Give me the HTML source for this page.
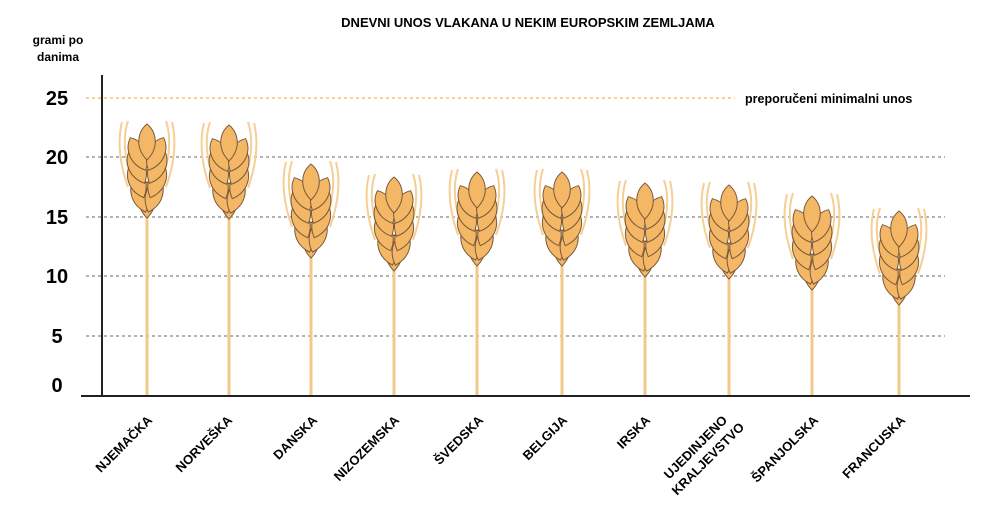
<!DOCTYPE html>
<html><head><meta charset="utf-8"><style>
body{margin:0;background:#fff;}
svg{display:block;font-family:"Liberation Sans",Arial,sans-serif;font-weight:bold;}
</style></head><body>
<svg width="1000" height="520" viewBox="0 0 1000 520">
<defs>
<path id="k" d="M0,-18 C10,-10 12,6 0,18 C-12,6 -10,-10 0,-18Z" fill="#f4b766" stroke="#7a5a3a" stroke-width="1"/>
<g id="head">
<path d="M-15,55 Q-27,20 -19,-4" fill="none" stroke="#f6cf95" stroke-width="2"/>
<path d="M-19,62 Q-32,25 -25,-3" fill="none" stroke="#f6cf95" stroke-width="2"/>
<path d="M15,55 Q27,20 19,-4" fill="none" stroke="#f6cf95" stroke-width="2"/>
<path d="M19,62 Q32,25 25,-3" fill="none" stroke="#f6cf95" stroke-width="2"/>
<use href="#k" transform="translate(0,75)"/>
<use href="#k" transform="translate(-7,70) rotate(-18)"/>
<use href="#k" transform="translate(7,70) rotate(18)"/>
<use href="#k" transform="translate(-10,56) rotate(-22)"/>
<use href="#k" transform="translate(10,56) rotate(22)"/>
<use href="#k" transform="translate(-10,42) rotate(-25)"/>
<use href="#k" transform="translate(10,42) rotate(25)"/>
<use href="#k" transform="translate(-9,29) rotate(-25)"/>
<use href="#k" transform="translate(9,29) rotate(25)"/>
<use href="#k" transform="translate(0,17)"/>
</g>
</defs>
<text x="528" y="27" font-size="13" text-anchor="middle">DNEVNI UNOS VLAKANA U NEKIM EUROPSKIM ZEMLJAMA</text>
<text x="58" y="44" font-size="12" text-anchor="middle">grami po</text>
<text x="58" y="61" font-size="12" text-anchor="middle">danima</text>
<g stroke="#999" stroke-width="1.5" stroke-dasharray="3,3">
<line x1="86" y1="157" x2="945" y2="157"/>
<line x1="86" y1="217" x2="945" y2="217"/>
<line x1="86" y1="276" x2="945" y2="276"/>
<line x1="86" y1="336" x2="945" y2="336"/>
</g>
<line x1="86" y1="98" x2="735" y2="98" stroke="#f2c46e" stroke-width="1.5" stroke-dasharray="3,3"/>
<text x="745" y="103" font-size="12.5">preporučeni minimalni unos</text>
<g font-size="20" text-anchor="middle">
<text x="57" y="105">25</text><text x="57" y="164">20</text><text x="57" y="224">15</text>
<text x="57" y="283">10</text><text x="57" y="343">5</text><text x="57" y="392">0</text>
</g>
<g stroke="#f2c98a" stroke-width="3">
<line x1="147" y1="210" x2="147" y2="396"/><line x1="229" y1="210" x2="229" y2="396"/>
<line x1="311" y1="250" x2="311" y2="396"/><line x1="394" y1="262" x2="394" y2="396"/>
<line x1="477" y1="258" x2="477" y2="396"/><line x1="562" y1="258" x2="562" y2="396"/>
<line x1="645" y1="268" x2="645" y2="396"/><line x1="729" y1="272" x2="729" y2="396"/>
<line x1="812" y1="283" x2="812" y2="396"/><line x1="899" y1="297" x2="899" y2="396"/>
</g>
<use href="#head" transform="translate(147,125)"/>
<use href="#head" transform="translate(229,126)"/>
<use href="#head" transform="translate(311,165)"/>
<use href="#head" transform="translate(394,178)"/>
<use href="#head" transform="translate(477,173)"/>
<use href="#head" transform="translate(562,173)"/>
<use href="#head" transform="translate(645,184)"/>
<use href="#head" transform="translate(729,186)"/>
<use href="#head" transform="translate(812,197)"/>
<use href="#head" transform="translate(899,212)"/>
<line x1="102" y1="75" x2="102" y2="396" stroke="#222" stroke-width="2"/>
<line x1="81" y1="396" x2="970" y2="396" stroke="#222" stroke-width="2"/>
<g font-size="13" text-anchor="end">
<text transform="translate(153,421) rotate(-45)">NJEMAČKA</text>
<text transform="translate(233,421) rotate(-45)">NORVEŠKA</text>
<text transform="translate(318,421) rotate(-45)">DANSKA</text>
<text transform="translate(400,421) rotate(-45)">NIZOZEMSKA</text>
<text transform="translate(484,421) rotate(-45)">ŠVEDSKA</text>
<text transform="translate(568,421) rotate(-45)">BELGIJA</text>
<text transform="translate(651,421) rotate(-45)">IRSKA</text>
<text transform="translate(728,421) rotate(-45)">UJEDINJENO</text>
<text transform="translate(745,428) rotate(-45)">KRALJEVSTVO</text>
<text transform="translate(819,421) rotate(-45)">ŠPANJOLSKA</text>
<text transform="translate(906,421) rotate(-45)">FRANCUSKA</text>
</g>
</svg>
</body></html>
